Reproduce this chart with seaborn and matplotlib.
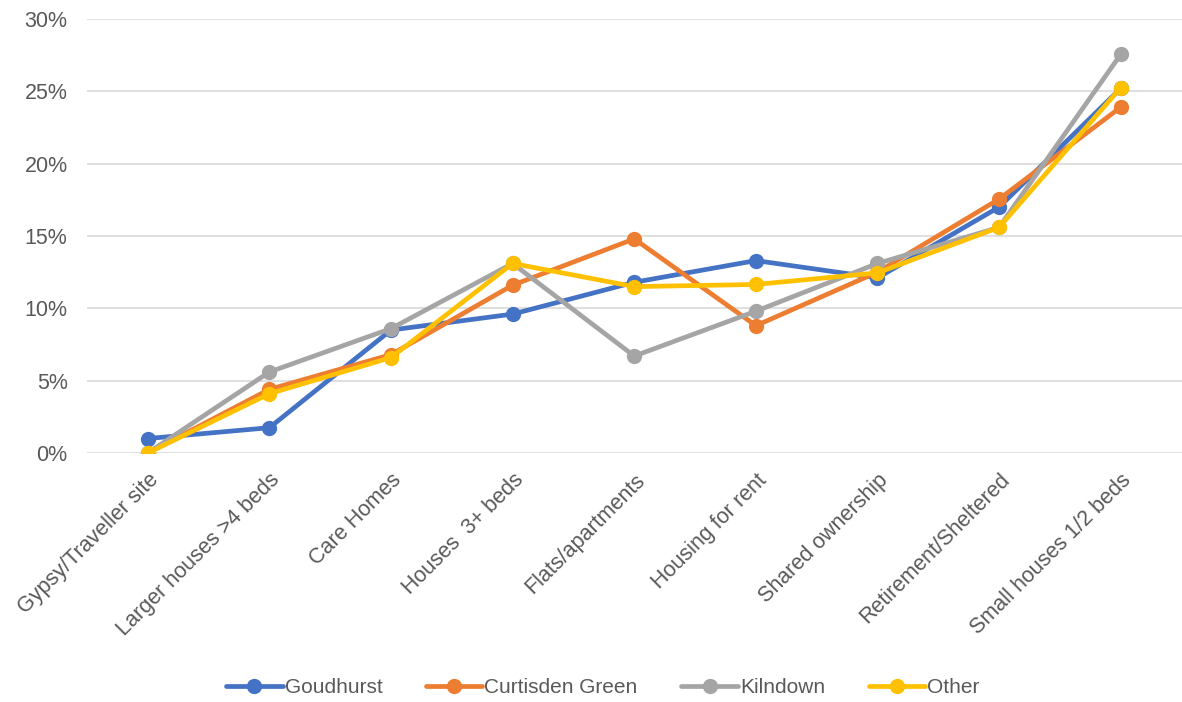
import pandas as pd
import matplotlib.pyplot as plt
import seaborn as sns
from matplotlib.ticker import PercentFormatter

# categories and series values (percent)
categories = ["Gypsy/Traveller site", "Larger houses >4 beds", "Care Homes", "Houses  3+ beds",
              "Flats/apartments", "Housing for rent", "Shared ownership",
              "Retirement/Sheltered", "Small houses 1/2 beds"]
goudhurst = [1.0, 1.75, 8.5, 9.6, 11.8, 13.3, 12.1, 17.0, 25.2]
curtisden_green = [0.0, 4.4, 6.8, 11.6, 14.8, 8.8, 12.5, 17.55, 23.9]
kilndown = [0.0, 5.6, 8.6, 13.1, 6.7, 9.8, 13.1, 15.6, 27.55]
other = [0.0, 4.1, 6.6, 13.1, 11.5, 11.65, 12.45, 15.6, 25.25]

series_names = ["Goudhurst", "Curtisden Green", "Kilndown", "Other"]
colors = ["#4472C4", "#ED7D31", "#A5A5A5", "#FFC000"]

rows = []
for name, vals in zip(series_names, [goudhurst, curtisden_green, kilndown, other]):
    for cat, v in zip(categories, vals):
        rows.append({"Category": cat, "Value": v, "Series": name})
df = pd.DataFrame(rows)

sns.set_style("white")
plt.rcParams["font.family"] = ["Liberation Sans", "DejaVu Sans"]

fig = plt.figure(figsize=(11.82, 7.02), dpi=100)
ax = fig.add_axes([0.0736, 0.3547, 0.926, 0.6183])

sns.lineplot(data=df, x="Category", y="Value", hue="Series", palette=colors,
             hue_order=series_names, sort=False, marker="o", markersize=11,
             markeredgewidth=0, linewidth=3.4, ax=ax)

ax.set_xlim(-0.5, 8.5)
ax.set_ylim(0, 30)
ax.set_yticks([0, 5, 10, 15, 20, 25, 30])
ax.yaxis.set_major_formatter(PercentFormatter(decimals=0))
ax.grid(axis="y", color="#D9D9D9", linewidth=1.2)
ax.set_axisbelow(True)
for s in ax.spines.values():
    s.set_visible(False)
ax.set_xlabel("")
ax.set_ylabel("")
ax.tick_params(axis="both", length=0, labelsize=15.5, colors="#595959")
ax.tick_params(axis="y", pad=14)
ax.tick_params(axis="x", pad=12)
plt.setp(ax.get_xticklabels(), rotation=45, ha="right", rotation_mode="anchor")

ax.legend(loc="center", bbox_to_anchor=(0.51, 0.02), bbox_transform=fig.transFigure,
          ncol=4, frameon=False, fontsize=15, handlelength=2.7, handletextpad=0.1,
          columnspacing=2.1, labelcolor="#595959")

fig.savefig("out.png", dpi=100)
